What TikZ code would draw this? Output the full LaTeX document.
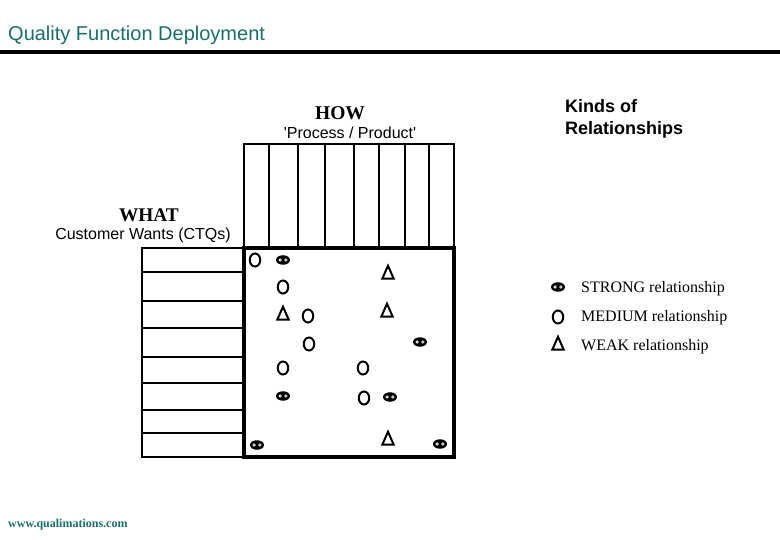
\documentclass[tikz,border=0pt]{standalone}
\usepackage{fontspec}
\setmainfont{Liberation Serif}
\setsansfont{Liberation Sans}
\newfontfamily\plainsans{Liberation Sans}
\usetikzlibrary{shapes.geometric}
\definecolor{qfdteal}{RGB}{26,110,106}
\tikzset{
  grid/.style={line width=2.2pt},
  matrixbox/.style={line width=3.2pt},
  medium/.style={ellipse, draw, line width=2pt, minimum width=10.5pt, minimum height=13pt, inner sep=0pt},
  weak/.style={isosceles triangle, isosceles triangle stretches, shape border rotate=90, draw, line width=2pt, minimum width=11.5pt, minimum height=13pt, inner sep=0pt},
  strong/.style={ellipse, fill=black, minimum width=14pt, minimum height=9.5pt, inner sep=0pt,
    path picture={
      \fill[white] ([xshift=-2.9pt]path picture bounding box.center) circle (1.7pt)
                   ([xshift=2.9pt]path picture bounding box.center) circle (1.7pt);
      \fill[black] ([xshift=-2.9pt]path picture bounding box.center) circle (0.6pt)
                   ([xshift=2.9pt]path picture bounding box.center) circle (0.6pt);}},
  lbl/.style={inner sep=0pt, anchor=base west},
  lblc/.style={inner sep=0pt, anchor=base},
}
\begin{document}
\begin{tikzpicture}[x=1pt,y=-1pt]
\useasboundingbox (0,0) rectangle (780,540);
% title
\node[lbl, font=\sffamily\fontsize{20}{24}\selectfont, text=qfdteal] (title) at (8,41) {Quality Function Deployment};
\draw[line width=4pt] (0,52) -- (780,52);
% HOW
\node[lblc, font=\rmfamily\bfseries\fontsize{19.5}{22}\selectfont] (how) at (340,120) {HOW};
\node[lblc, font=\plainsans\fontsize{16}{18}\selectfont] (howsub) at (350,139) {'Process / Product'};
% WHAT
\node[lblc, font=\rmfamily\bfseries\fontsize{19.3}{22}\selectfont] (what) at (149,221.5) {WHAT};
\node[lblc, font=\sffamily\fontsize{16}{18}\selectfont] (whatsub) at (143,239.5) {Customer Wants (CTQs)};
% Kinds
\node[lbl, font=\sffamily\bfseries\fontsize{18}{22}\selectfont] (kinds1) at (565,112.5) {Kinds of};
\node[lbl, font=\sffamily\bfseries\fontsize{18}{22}\selectfont] (kinds2) at (565,134.5) {Relationships};
% HOW box
\draw[grid] (244,144) rectangle (454,248);
\foreach \x in {269,298,325,354,379,405,429} \draw[grid] (\x,144) -- (\x,248);
% WHAT box
\draw[grid] (142,248) rectangle (244,457);
\foreach \y in {272,301,328,357,383,410,433} \draw[grid] (142,\y) -- (244,\y);
% matrix
\draw[matrixbox] (244,248) rectangle (454,457);
% symbols
\node[medium] (m1) at (255,260) {};
\node[strong] (s1) at (283,260) {};
\node[weak] (w1) at (388,275) {};
\node[medium] (m2) at (283,287) {};
\node[weak] (w2) at (283,316) {};
\node[medium] (m3) at (308,316) {};
\node[weak] (w3) at (387,313) {};
\node[medium] (m4) at (309,344) {};
\node[strong] (s2) at (420,342) {};
\node[medium] (m5) at (283,368) {};
\node[medium] (m6) at (363,368) {};
\node[strong] (s3) at (283,396) {};
\node[medium] (m7) at (364,398) {};
\node[strong] (s4) at (390,397) {};
\node[strong] (s5) at (257,445) {};
\node[weak] (w4) at (388,441) {};
\node[strong] (s6) at (440,444) {};
% legend
\node[strong] (ls) at (558,287) {};
\node[medium] (lm) at (558,317) {};
\node[weak] (lw) at (558,346) {};
\node[lbl, font=\rmfamily\fontsize{16}{18}\selectfont] (lst) at (581,293) {STRONG relationship};
\node[lbl, font=\rmfamily\fontsize{16}{18}\selectfont] (lmt) at (581,322) {MEDIUM relationship};
\node[lbl, font=\rmfamily\fontsize{16}{18}\selectfont] (lwt) at (581,351) {WEAK relationship};
% website
\node[lbl, font=\rmfamily\bfseries\fontsize{12}{14}\selectfont, text=qfdteal] (web) at (8,527) {www.qualimations.com};
\end{tikzpicture}
\end{document}
